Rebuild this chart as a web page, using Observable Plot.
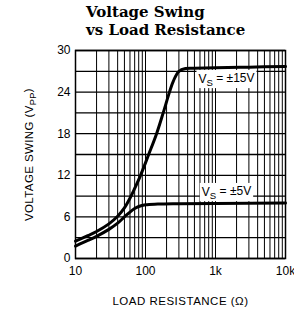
<!DOCTYPE html>
<html><head><meta charset="utf-8">
<script src="https://cdn.jsdelivr.net/npm/d3@7"></script>
<script src="https://cdn.jsdelivr.net/npm/@observablehq/plot@0.6"></script>
<style>
body{margin:0;background:#fff;}
#wrap{position:relative;width:294px;height:312px;overflow:hidden;}
#title{position:absolute;left:86px;top:3px;font:bold 15px "DejaVu Serif";line-height:18px;color:#000;white-space:nowrap;z-index:2;}
</style></head><body>
<div id="wrap"><div id="title">Voltage Swing<br>vs Load Resistance</div></div>
<script>
// ±15 V supply
const resistance15 = [10, 15, 20, 30, 40, 50, 60, 70, 85, 111, 144, 179, 220, 250, 300, 373, 500, 1000, 3000, 10000];
const swing15 = [2.5, 3.3, 3.9, 5.0, 6.1, 7.3, 8.7, 10.1, 12, 15, 18, 21, 24, 25.6, 27, 27.4, 27.45, 27.5, 27.6, 27.7];
// ±5 V supply
const resistance5 = [10, 15, 20, 30, 40, 50, 60, 70, 80, 100, 150, 300, 1000, 10000];
const swing5 = [1.8, 2.6, 3.2, 4.2, 5.1, 6.0, 6.7, 7.2, 7.5, 7.75, 7.85, 7.9, 7.95, 8.0];

const xTicks = [10, 100, 1000, 10000];
const xTickLabels = ["10", "100", "1k", "10k"];
const yTicks = [0, 6, 12, 18, 24, 30];
const xGridValues = [10,20,30,40,50,60,70,80,90,100,200,300,400,500,600,700,800,900,1000,2000,3000,4000,5000,6000,7000,8000,9000,10000];
const yGridValues = [0,3,6,9,12,15,18,21,24,27,30];

const labelText = ["VS = ±15V", "VS = ±5V"];
const labelX = [1435, 1435];
const labelY = [25.9, 9.6];

const curve15 = resistance15.map((r, i) => ({r, v: swing15[i]}));
const curve5 = resistance5.map((r, i) => ({r, v: swing5[i]}));
const labels = labelText.map((t, i) => ({t, x: labelX[i], y: labelY[i]}));

const fmt = d => xTickLabels[xTicks.indexOf(d)];

const plot = Plot.plot({
  width: 294, height: 312,
  marginTop: 50, marginBottom: 54, marginLeft: 75, marginRight: 9,
  style: {fontFamily: "'Liberation Sans', Arial, sans-serif", fontSize: "12px", background: "white", color: "black", overflow: "visible"},
  x: {type: "log", domain: [10, 10000]},
  y: {domain: [0, 30]},
  marks: [
    Plot.gridX(xGridValues, {stroke: "black", strokeOpacity: 1, strokeWidth: 1}),
    Plot.gridY(yGridValues, {stroke: "black", strokeOpacity: 1, strokeWidth: 1.3}),
    Plot.frame({stroke: "black", strokeWidth: 1.5}),
    Plot.line(curve15, {x: "r", y: "v", stroke: "black", strokeWidth: 3, curve: "catmull-rom"}),
    Plot.line(curve5, {x: "r", y: "v", stroke: "black", strokeWidth: 3, curve: "catmull-rom"}),
    Plot.text(labels, {x: "x", y: "y", text: "t", fontSize: 12, fill: "black", textAnchor: "middle", className: "annot"}),
    Plot.axisX({ticks: xTicks, tickFormat: fmt, tickSize: 0, tickPadding: 8, fontSize: 12,
      label: "LOAD RESISTANCE (Ω)", labelAnchor: "center", labelOffset: 46, labelArrow: "none"}),
    Plot.axisY({ticks: yTicks, tickSize: 0, tickPadding: 5, fontSize: 12,
      label: "VOLTAGE SWING (VPP)", labelAnchor: "center", labelOffset: 51, labelArrow: "none"})
  ]
});
document.getElementById("wrap").appendChild(plot);

const svg = d3.select(plot);
function rebuild(node, parts) {
  const sel = d3.select(node);
  sel.text(null);
  parts.forEach(([s, sub]) => {
    const t = sel.append("tspan").text(s);
    if (sub === 1) t.attr("dy", "0.35em").attr("font-size", "0.8em");
    if (sub === -1) t.attr("dy", "-0.35em");
  });
}
svg.selectAll("text").each(function() {
  const txt = this.textContent;
  if (txt === "VOLTAGE SWING (VPP)") {
    rebuild(this, [["VOLTAGE SWING (V", 0], ["PP", 1], [")", -1]]);
    d3.select(this).attr("font-size", 11.5).attr("letter-spacing", "0.4px");
  } else if (txt === "LOAD RESISTANCE (Ω)") {
    d3.select(this).attr("font-size", 11.5).attr("letter-spacing", "0.5px");
  } else if (labelText.includes(txt)) {
    const rest = txt.slice(2);
    rebuild(this, [["V", 0], ["S", 1], [" " + rest.trim(), -1]]);
    const b = this.getBBox();
    const r = d3.select(this.parentNode).insert("rect", () => this)
      .attr("x", b.x - 2).attr("y", b.y - 1).attr("width", b.width + 4).attr("height", b.height + 1)
      .attr("fill", "white");
    const tr = this.getAttribute("transform");
    if (tr) r.attr("transform", tr);
    const tx = this.getAttribute("x"), ty = this.getAttribute("y");
    if (tx != null && !tr) r.attr("x", b.x - 2);
  }
});
</script>
</body></html>
